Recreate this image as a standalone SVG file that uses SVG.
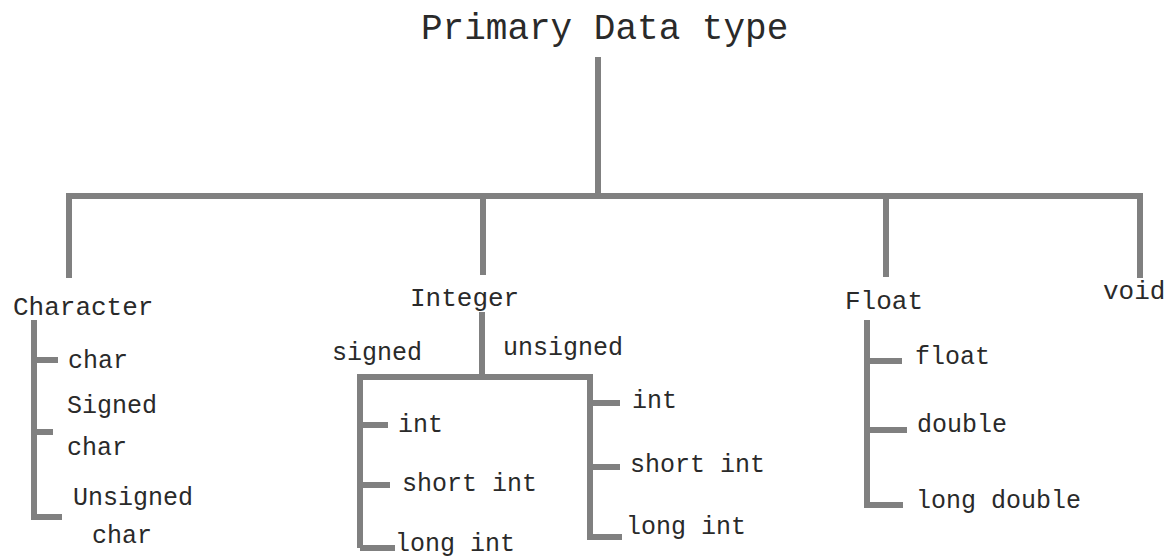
<svg xmlns="http://www.w3.org/2000/svg" width="1173" height="559" viewBox="0 0 1173 559">
<style>
.ln{stroke:#808080;stroke-width:6;fill:none;stroke-linecap:butt}
text{font-family:"Liberation Mono","Courier New",monospace;fill:#2a2a2a}
.t{font-size:36px}
.c{font-size:26px}
.i{font-size:25px}
</style>
<rect width="1173" height="559" fill="#fff"/>
<g id="connectors">
<path class="ln" d="M598,57 V196"/>
<path class="ln" d="M66,196 H1143"/>
<path class="ln" d="M69,196 V278"/>
<path class="ln" d="M483,196 V275"/>
<path class="ln" d="M886,196 V277"/>
<path class="ln" d="M1140,196 V278"/>
<path class="ln" d="M34,320 V517 H62"/>
<path class="ln" d="M34,360 H58"/>
<path class="ln" d="M34,432 H53"/>
<path class="ln" d="M482,312 V377"/>
<path class="ln" d="M360,548 V377 H590 V537 H622"/>
<path class="ln" d="M360,548 H395"/>
<path class="ln" d="M360,425 H388"/>
<path class="ln" d="M360,485 H390"/>
<path class="ln" d="M590,403 H620"/>
<path class="ln" d="M590,467 H620"/>
<path class="ln" d="M867,320 V505 H903"/>
<path class="ln" d="M867,361 H902"/>
<path class="ln" d="M867,430 H907"/>
</g>
<g id="root"><text class="t" x="421" y="39">Primary Data type</text></g>
<g id="character"><text class="c" x="13" y="315">Character</text></g>
<g id="char"><text class="i" x="68" y="368">char</text></g>
<g id="signed-char"><text class="i" x="67" y="413">Signed</text><text class="i" x="67" y="455">char</text></g>
<g id="unsigned-char"><text class="i" x="73" y="505">Unsigned</text><text class="i" x="92" y="543">char</text></g>
<g id="integer"><text class="c" x="410" y="306">Integer</text></g>
<g id="signed"><text class="i" x="332" y="360">signed</text></g>
<g id="unsigned"><text class="i" x="503" y="355">unsigned</text></g>
<g id="s-int"><text class="i" x="398" y="432">int</text></g>
<g id="s-short"><text class="i" x="402" y="491">short int</text></g>
<g id="s-long"><text class="i" x="395" y="551">long int</text></g>
<g id="u-int"><text class="i" x="632" y="408">int</text></g>
<g id="u-short"><text class="i" x="630" y="472">short int</text></g>
<g id="u-long"><text class="i" x="626" y="534">long int</text></g>
<g id="float"><text class="c" x="845" y="309">Float</text></g>
<g id="void"><text class="c" x="1103" y="299">void</text></g>
<g id="f-float"><text class="i" x="915" y="364">float</text></g>
<g id="f-double"><text class="i" x="917" y="432">double</text></g>
<g id="f-long"><text class="i" x="916" y="508">long double</text></g>
</svg>
